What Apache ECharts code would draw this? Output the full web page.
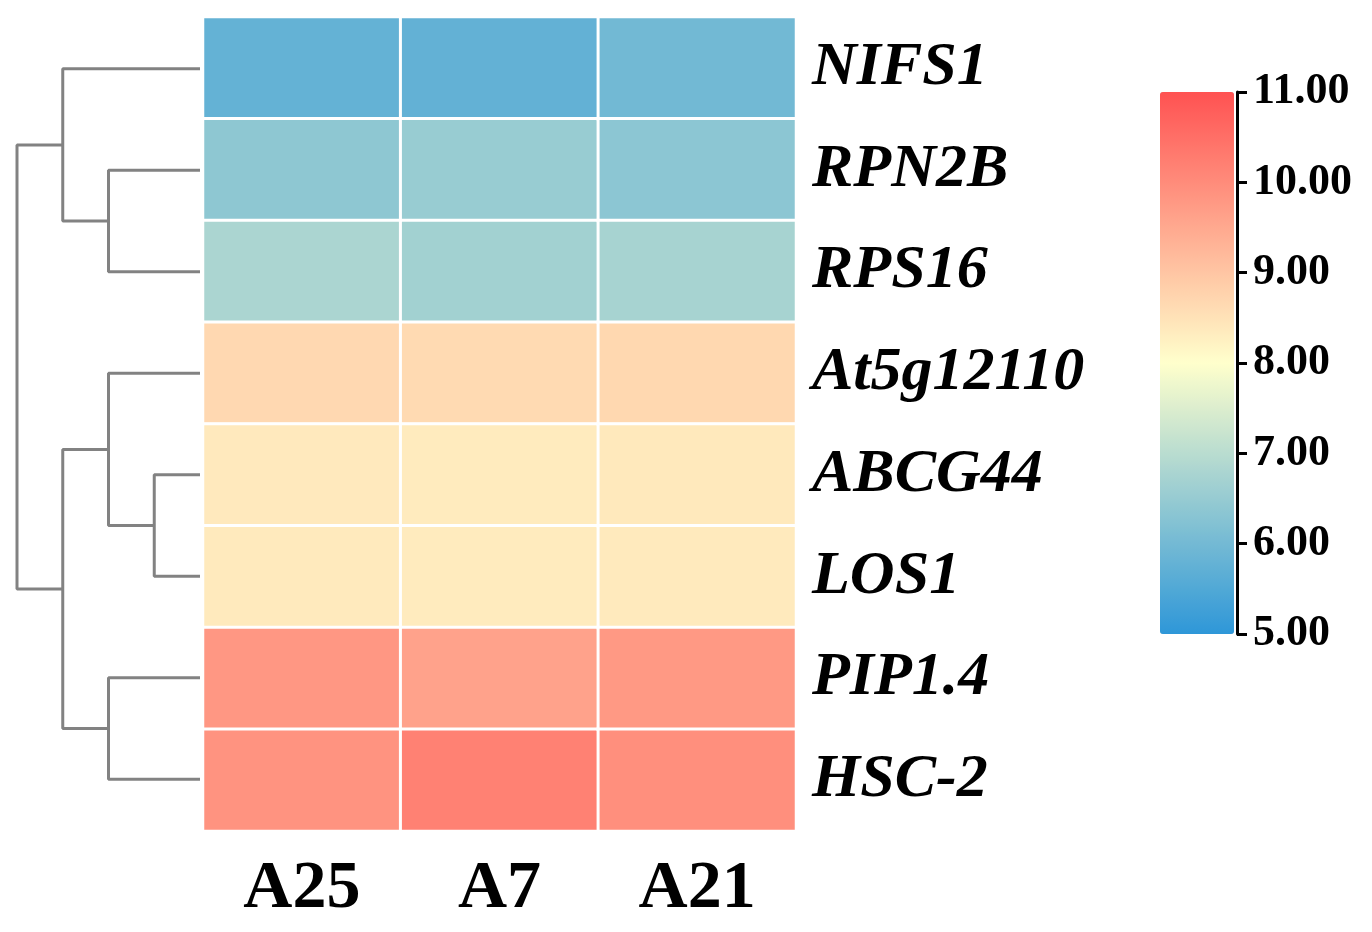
<!DOCTYPE html>
<html>
<head>
<meta charset="utf-8">
<script src="https://cdn.jsdelivr.net/npm/echarts@6/dist/echarts.min.js"></script>
<style>
html,body{margin:0;padding:0;background:#fff;}
#chart{width:1372px;height:932px;}
</style>
</head>
<body>
<div id="chart"></div>
<script>
// ---- data ----
const genes = ['NIFS1', 'RPN2B', 'RPS16', 'At5g12110', 'ABCG44', 'LOS1', 'PIP1.4', 'HSC-2'];
const samples = ['A25', 'A7', 'A21'];
// expression values per gene (row), in sample order A25, A7, A21
const valuesA25 = [5.78, 6.38, 6.79, 8.67, 8.38, 8.36, 9.80, 9.87];
const valuesA7  = [5.76, 6.52, 6.66, 8.65, 8.34, 8.35, 9.61, 10.19];
const valuesA21 = [5.98, 6.35, 6.74, 8.68, 8.39, 8.37, 9.77, 9.94];
// hierarchical clustering merges: [childA, childB, height]; leaves 0..7, new nodes 8..
const merges = [
  [1, 2, 2.0],
  [4, 5, 1.0],
  [6, 7, 2.0],
  [0, 8, 3.0],
  [3, 9, 2.0],
  [12, 10, 3.0],
  [11, 13, 4.0]
];
const scaleMin = 5, scaleMax = 11, scaleStep = 1;
const scaleColors = ['#2E97D8', '#FFFFCC', '#FF5252'];

// ---- build ----
const cols = [valuesA25, valuesA7, valuesA21];
const heatData = [];
cols.forEach((arr, ci) => arr.forEach((v, ri) => heatData.push([ci, ri, v])));

const nodes = genes.map((g, i) => ({ y: i, h: 0 }));
const dendroSeries = [];
merges.forEach(m => {
  const a = nodes[m[0]], b = nodes[m[1]], h = m[2];
  dendroSeries.push({
    type: 'line', xAxisIndex: 1, yAxisIndex: 1,
    data: [[a.h, a.y], [h, a.y], [h, b.y], [b.h, b.y]],
    symbol: 'none', silent: true, animation: false,
    lineStyle: { color: '#828282', width: 3 }
  });
  nodes.push({ y: (a.y + b.y) / 2, h: h });
});

const serif = 'Liberation Serif, Times New Roman, serif';
const chart = echarts.init(document.getElementById('chart'), null, { renderer: 'canvas' });
chart.setOption({
  backgroundColor: '#ffffff',
  animation: false,
  grid: [
    { left: 203, top: 17, width: 593, height: 814 },
    { left: 17, top: 18, width: 183, height: 812 },
    { left: 1237, top: 92, width: 0, height: 542 }
  ],
  xAxis: [
    { type: 'category', data: samples, gridIndex: 0, position: 'bottom',
      axisLine: { show: false }, axisTick: { show: false }, splitLine: { show: false },
      axisLabel: { fontFamily: serif, fontWeight: 'bold', fontSize: 68, color: '#000', margin: 24 } },
    { type: 'value', gridIndex: 1, min: 0, max: 4, inverse: true, show: false },
    { type: 'value', gridIndex: 2, show: false }
  ],
  yAxis: [
    { type: 'category', data: genes, gridIndex: 0, inverse: true, position: 'right',
      axisLine: { show: false }, axisTick: { show: false }, splitLine: { show: false },
      axisLabel: { fontFamily: serif, fontWeight: 'bold', fontStyle: 'italic', fontSize: 62, color: '#000', margin: 16, align: 'left' } },
    { type: 'value', gridIndex: 1, min: -0.5, max: 7.5, inverse: true, show: false },
    { type: 'value', gridIndex: 2, min: scaleMin, max: scaleMax, interval: scaleStep, position: 'right',
      axisLine: { show: true, lineStyle: { color: '#000', width: 3 } },
      axisTick: { show: true, length: 10, lineStyle: { color: '#000', width: 3 } },
      splitLine: { show: false },
      axisLabel: { fontFamily: serif, fontWeight: 'bold', fontSize: 44, color: '#000', margin: 16,
        formatter: v => v.toFixed(2) } }
  ],
  visualMap: {
    type: 'continuous', min: scaleMin, max: scaleMax, seriesIndex: 0,
    calculable: false, orient: 'vertical', left: 1160, top: 92, padding: 0,
    itemWidth: 74, itemHeight: 542, text: ['', ''], showLabel: false,
    inRange: { color: scaleColors }
  },
  series: [
    { type: 'heatmap', xAxisIndex: 0, yAxisIndex: 0, data: heatData,
      itemStyle: { borderColor: '#ffffff', borderWidth: 3 }, silent: true }
  ].concat(dendroSeries)
});
</script>
</body>
</html>
